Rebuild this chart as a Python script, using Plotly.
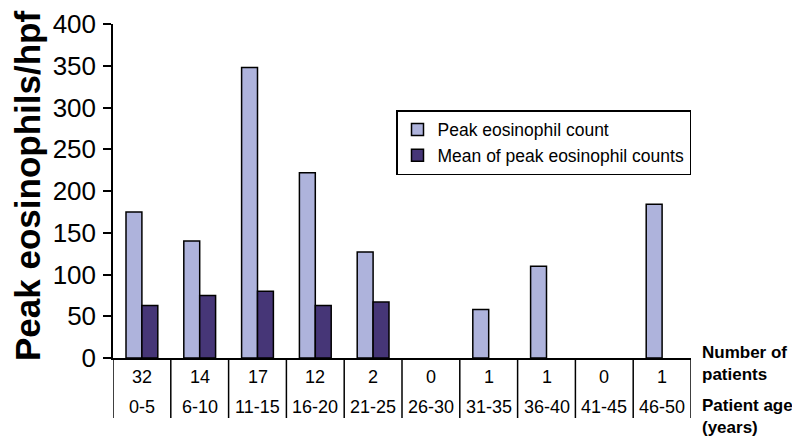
import plotly.graph_objects as go

age_groups = ["0-5", "6-10", "11-15", "16-20", "21-25", "26-30", "31-35", "36-40", "41-45", "46-50"]
patients = [32, 14, 17, 12, 2, 0, 1, 1, 0, 1]
peak_counts = [175, 140, 348, 222, 127, None, 58, 110, None, 184]
mean_peak = [63, 75, 80, 63, 67, None, None, None, None, None]

light = "#aeb3dc"
dark = "#463677"
font_family = "Liberation Sans, Arial, sans-serif"

fig = go.Figure()
fig.add_trace(go.Bar(x=age_groups, y=peak_counts, name="Peak eosinophil count",
                     marker=dict(color=light, line=dict(color="black", width=1.5))))
fig.add_trace(go.Bar(x=age_groups, y=mean_peak, name="Mean of peak eosinophil counts",
                     marker=dict(color=dark, line=dict(color="black", width=1.5))))

OFF = 8  # page body margin
W, H = 800 - OFF, 441 - OFF
# plot area in page pixel coords
PL, PR, PT, PB = 113, 691, 24, 358
L, T = PL - OFF, PT - OFF
R, B = W - (PR - OFF), H - (PB - OFF)
pw, ph = PR - PL, PB - PT

def py(pix):  # page pixel y -> paper y
    return (PB - pix) / ph

def px(pix):
    return (pix - PL) / pw

shapes = []
for i in range(len(age_groups) + 1):
    shapes.append(dict(type="line", xref="x", yref="paper", x0=i - 0.5, x1=i - 0.5,
                       y0=0, y1=py(418), line=dict(color="black", width=1.5)))

annotations = []
for i, (g, n) in enumerate(zip(age_groups, patients)):
    annotations.append(dict(x=g, xref="x", yref="paper", y=py(377), text=str(n),
                            xanchor="center", yanchor="middle",
                            showarrow=False, font=dict(size=18, color="black")))
    annotations.append(dict(x=g, xref="x", yref="paper", y=py(407), text=g,
                            xanchor="center", yanchor="middle",
                            showarrow=False, font=dict(size=18, color="black")))

annotations.append(dict(x=px(700), xref="paper", yref="paper", y=py(363), xanchor="left",
                        yanchor="middle", align="left", showarrow=False,
                        text="<b>Number of<br>patients</b>", font=dict(size=17, color="black")))
annotations.append(dict(x=px(700), xref="paper", yref="paper", y=py(416), xanchor="left",
                        yanchor="middle", align="left", showarrow=False,
                        text="<b>Patient age<br>(years)</b>", font=dict(size=17, color="black")))
annotations.append(dict(x=px(27), xref="paper", yref="paper", y=py(186), textangle=-90,
                        xanchor="center", yanchor="middle",
                        showarrow=False, text="<b>Peak eosinophils/hpf</b>",
                        font=dict(size=35, color="black")))

fig.update_layout(
    width=W, height=H,
    margin=dict(l=L, r=R, t=T, b=B),
    paper_bgcolor="white", plot_bgcolor="white",
    font=dict(family=font_family, color="black"),
    barmode="group", bargap=0.45, bargroupgap=0,
    showlegend=True,
    legend=dict(x=px(396), y=py(110), xanchor="left", yanchor="top",
                bordercolor="black", borderwidth=1.5, bgcolor="white",
                font=dict(size=17.5), tracegroupgap=0),
    xaxis=dict(type="category", range=[-0.5, 9.5], showticklabels=False, ticks="",
               showline=True, linecolor="black", linewidth=1.5, showgrid=False,
               automargin=False),
    yaxis=dict(range=[0, 400], tickvals=[0, 50, 100, 150, 200, 250, 300, 350, 400],
               ticks="outside", ticklen=8, tickwidth=1.5, tickcolor="black",
               showline=True, linecolor="black", linewidth=1.5, showgrid=False,
               zeroline=False, tickfont=dict(size=26), ticklabelstandoff=2,
               automargin=False),
    shapes=shapes,
    annotations=annotations,
)

fig.write_html("out.html")
